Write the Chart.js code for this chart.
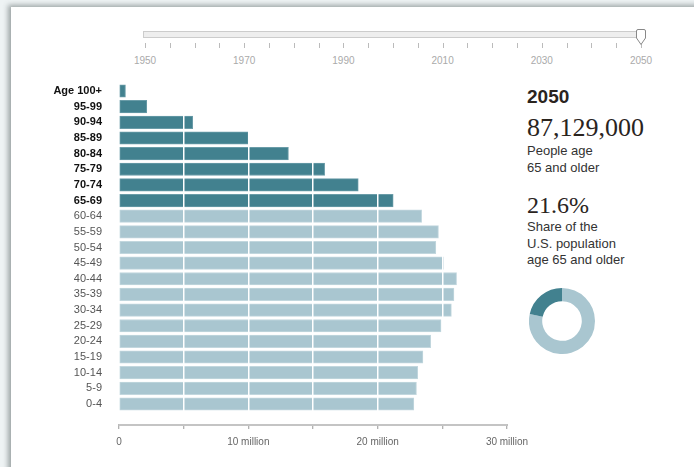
<!DOCTYPE html>
<html>
<head>
<meta charset="utf-8">
<script src="https://cdn.jsdelivr.net/npm/chart.js@4/dist/chart.umd.min.js"></script>
<style>
  body { margin: 0; width: 694px; height: 467px; overflow: hidden; background: #eef3f4; font-family: "Liberation Sans", Arial, sans-serif; }
  #panel { position: absolute; left: 11px; top: 7px; width: 700px; height: 480px; background: #fff; box-shadow: -3px -2px 5px rgba(60,70,70,0.45); }
  #barWrap { position: absolute; left: 11px; top: 70px; width: 540px; height: 400px; }
  #donutWrap { position: absolute; left: 529px; top: 288px; width: 66px; height: 66px; }
  #axisRule { position: absolute; left: 118.5px; top: 424px; width: 389px; height: 2px; background: #c4c4c4; }
  .track { position: absolute; left: 143px; top: 31px; width: 500px; height: 5px; background: #eee; border: 1px solid #ccc; }
  .stick { position: absolute; top: 43px; width: 1px; height: 5px; background: #bbb; }
  .slab { position: absolute; top: 55px; width: 40px; margin-left: -20px; text-align: center; font-size: 10px; color: #aaa; }
  .info { position: absolute; left: 527px; color: #2a241e; }
  .year { top: 86px; font-size: 19px; font-weight: bold; }
  .big { font-family: "Liberation Serif", "DejaVu Serif", serif; font-size: 26px; }
  .note { font-size: 13px; line-height: 16.5px; color: #333; }
</style>
</head>
<body>
<div id="panel"></div>
<div id="slider"></div>
<div class="info year">2050</div>
<div class="info big" style="top:113px">87,129,000</div>
<div class="info note" style="top:143px">People age<br>65 and older</div>
<div class="info big" style="top:192px; font-size:24px">21.6%</div>
<div class="info note" style="top:219px">Share of the<br>U.S. population<br>age 65 and older</div>
<div id="axisRule"></div>
<div id="barWrap"><canvas id="bars"></canvas></div>
<div id="donutWrap"><canvas id="donut"></canvas></div>
<script>
// Population by age group, 2050 (millions)
const ageGroups = ['Age 100+', '95-99', '90-94', '85-89', '80-84', '75-79', '70-74', '65-69',
  '60-64', '55-59', '50-54', '45-49', '40-44', '35-39', '30-34', '25-29', '20-24', '15-19', '10-14', '5-9', '0-4'];
const population = [0.5, 2.15, 5.7, 10.0, 13.1, 15.9, 18.5, 21.2,
  23.4, 24.7, 24.5, 25.1, 26.1, 25.9, 25.7, 24.9, 24.1, 23.5, 23.1, 23.0, 22.8];
const elderlyGroups = 8; // first 8 groups are 65 and older

// Share of population 65+ (rest, 65+)
const shareLabels = ['Under 65', '65 and older'];
const shareValues = [78.4, 21.6];

// Slider years
const sliderTicks = [1950, 1955, 1960, 1965, 1970, 1975, 1980, 1985, 1990, 1995, 2000,
  2005, 2010, 2015, 2020, 2025, 2030, 2035, 2040, 2045, 2050];
const sliderLabels = [1950, 1970, 1990, 2010, 2030, 2050];
const currentYear = 2050;

const DARK = '#42818f';
const LIGHT = '#a9c6d0';

// Build the year slider
function buildSlider() {
    const el = document.getElementById('slider');
    const x0 = 145, x1 = 641;
    const px = y => x0 + (y - 1950) / 100 * (x1 - x0);
    let html = '<div class="track"></div>';
    sliderTicks.forEach(y => {
        html += `<div class="stick" style="left:${Math.round(px(y))}px"></div>`;
    });
    sliderLabels.forEach(y => {
        html += `<div class="slab" style="left:${px(y)}px">${y}</div>`;
    });
    const hx = px(currentYear);
    html += `<svg style="position:absolute;left:${hx - 7}px;top:27px" width="14" height="21">
        <path d="M2.5,4 Q2.5,2.5 4,2.5 L10,2.5 Q11.5,2.5 11.5,4 L11.5,11 L7,17.5 L2.5,11 Z" fill="#fff" stroke="#888" stroke-width="1"/>
    </svg>`;
    el.innerHTML = html;
}

function tickLabel(value) {
    if (value === 0) return '0';
    if (value % 10 === 0) return value + ' million';
    return '';
}

// is this y tick one of the 65+ groups
function isElderlyTick(c) {
    return !!(c && c.tick && c.tick.value >= 0 && c.tick.value < elderlyGroups);
}

// Axis line along the top of the x scale
const axisLine = {
    id: 'axisLine',
    afterDraw(chart) {
        const x = chart.scales.x;
        const c = chart.ctx;
        c.save();
        c.strokeStyle = '#c4c4c4';
        c.lineWidth = 2;
        c.beginPath();
        c.moveTo(x.getPixelForValue(x.min) - 0.5, x.top + 1);
        c.lineTo(x.getPixelForValue(x.max) + 0.5, x.top + 1);
        c.stroke();
        c.restore();
    }
};

// Horizontal population pyramid (one side)
function buildBars() {
    const ctx = document.getElementById('bars').getContext('2d');
    return new Chart(ctx, {
        type: 'bar',
        data: {
            datasets: [{
                data: population.map((v, i) => ({ x: v, y: i })),
                backgroundColor: population.map((v, i) => i < elderlyGroups ? DARK : LIGHT),
                borderColor: population.map((v, i) => i < elderlyGroups ? '#6a9ca8' : '#c2d7de'),
                borderWidth: 1,
                borderSkipped: false,
                barThickness: 12.5
            }]
        },
        options: {
            indexAxis: 'y',
            responsive: false,
            animation: false,
            layout: { padding: { left: 0, right: 44, top: 13.2, bottom: 6 } },
            plugins: { legend: { display: false }, tooltip: { enabled: false } },
            scales: {
                x: {
                    type: 'linear',
                    min: 0,
                    max: 30,
                    afterFit: s => { s.height = 40; },
                    ticks: {
                        stepSize: 5,
                        autoSkip: false,
                        maxRotation: 0,
                        padding: 7,
                        color: '#666',
                        font: { family: 'Liberation Sans', size: 10 },
                        callback: tickLabel
                    },
                    grid: {
                        z: 1,
                        color: c => (c.tick && c.tick.value === 0) ? 'rgba(0,0,0,0)' : '#ffffff',
                        lineWidth: 1.5,
                        tickColor: '#999',
                        tickWidth: 1,
                        tickLength: 5
                    },
                    border: { display: false }
                },
                y: {
                    type: 'linear',
                    reverse: true,
                    offset: false,
                    min: -0.5,
                    max: 21.28,
                    afterFit: s => { s.width = 108; s.paddingTop = 0; s.paddingBottom = 0; },
                    afterBuildTicks: s => { s.ticks = ageGroups.map((g, i) => ({ value: i })); },
                    grid: { display: false, drawTicks: false, offset: false },
                    border: { display: false },
                    ticks: {
                        autoSkip: false,
                        padding: 17,
                        color: c => isElderlyTick(c) ? '#111' : '#555',
                        font: c => ({ family: 'Liberation Sans', size: 11, weight: isElderlyTick(c) ? 'bold' : 'normal' }),
                        callback: v => ageGroups[v] || ''
                    }
                }
            }
        },
        plugins: [axisLine]
    });
}

// Share of population 65+
function buildDonut() {
    const ctx = document.getElementById('donut').getContext('2d');
    new Chart(ctx, {
        type: 'doughnut',
        data: {
            labels: shareLabels,
            datasets: [{
                data: shareValues,
                backgroundColor: [LIGHT, DARK],
                borderWidth: 0
            }]
        },
        options: {
            responsive: false,
            animation: false,
            cutout: '60%',
            plugins: { legend: { display: false }, tooltip: { enabled: false } }
        }
    });
}

document.getElementById('bars').width = 540;
document.getElementById('bars').height = 400;
document.getElementById('donut').width = 66;
document.getElementById('donut').height = 66;
buildSlider();
buildBars();
buildDonut();
</script>
</body>
</html>
